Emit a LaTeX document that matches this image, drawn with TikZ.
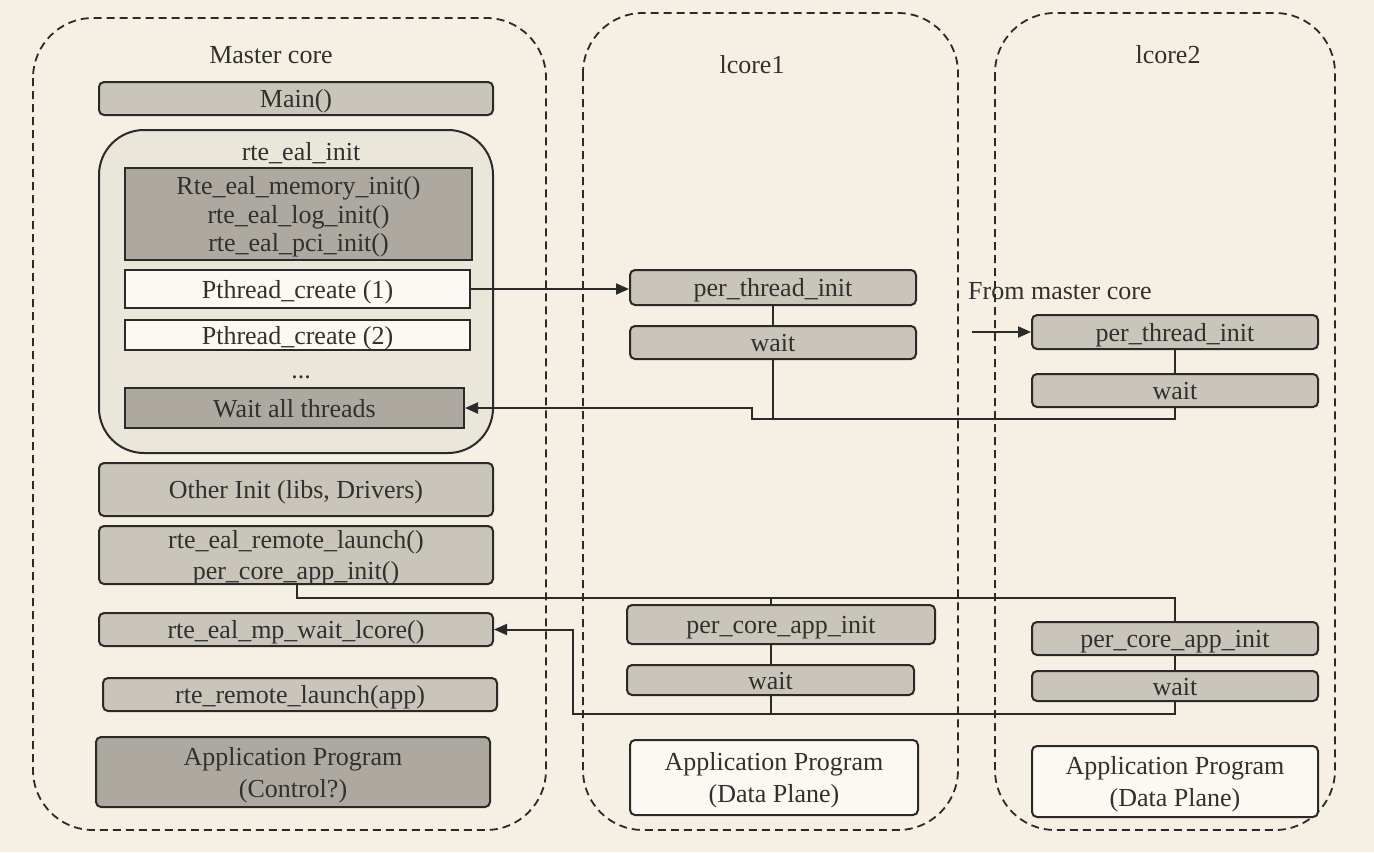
\documentclass[tikz,border=0pt]{standalone}
\usepackage{fontspec}
\setmainfont{Liberation Serif}
\usetikzlibrary{arrows.meta}
\definecolor{bg}{HTML}{F6F0E4}
\definecolor{lgrey}{HTML}{C9C5BA}
\definecolor{dgrey}{HTML}{ADA9A0}
\definecolor{cont}{HTML}{EBE6DA}
\definecolor{wbox}{HTML}{FCF9F2}
\definecolor{ink}{HTML}{2A2A2A}
\definecolor{txt}{HTML}{303030}
\tikzset{
  core/.style={draw=ink, line width=1.8pt, dash pattern=on 8pt off 5pt, rounded corners=60pt},
  box/.style={draw=ink, line width=2pt, rounded corners=5pt, inner sep=0pt, align=center, text=txt,
    font=\fontsize{26}{31}\selectfont, text height=20pt, text depth=2pt},
  multi/.style={text height=#1pt},
  lbox/.style={box, fill=lgrey},
  dbox/.style={box, fill=dgrey},
  wbx/.style={box, fill=wbox},
  sqd/.style={box, fill=dgrey, rounded corners=0pt},
  sqw/.style={box, fill=wbox, rounded corners=0pt},
  lab/.style={text=txt, inner sep=0pt, font=\fontsize{26}{31}\selectfont},
  wh/.style 2 args={minimum width=#1pt, minimum height=#2pt},
  conn/.style={draw=ink, line width=2pt},
  arr/.style={conn, -{Triangle[length=13pt,width=11pt]}},
}
\begin{document}
\begin{tikzpicture}[x=1pt,y=-1pt]
\fill[bg] (0,0) rectangle (1374,852);
\useasboundingbox (0,0) rectangle (1374,852);
% dashed cores
\draw[core] (33,18) rectangle (546,830);
\draw[core] (583,13) rectangle (958,830);
\draw[core] (995,13) rectangle (1335,830);
\node[lab] (tmaster) at (271,55) {Master core};
\node[lab] (tl1) at (752,65) {lcore1};
\node[lab] (tl2) at (1168,55) {lcore2};
% master core
\node[lbox, wh={394}{33}] (main) at (296,98.5) {Main()};
\node[box, fill=cont, rounded corners=45pt, wh={394}{323}] (ealc) at (296,291.5) {};
\node[lab] (eallab) at (301,153) {rte\_eal\_init};
\node[sqd, wh={347}{92}, font=\fontsize{26}{28.5}\selectfont, multi=77] (mem) at (298.5,214) {Rte\_eal\_memory\_init()\\rte\_eal\_log\_init()\\rte\_eal\_pci\_init()};
\node[sqw, wh={345}{38}] (pc1) at (297.5,289) {Pthread\_create (1)};
\node[sqw, wh={345}{30}] (pc2) at (297.5,335) {Pthread\_create (2)};
\node[lab] (dots) at (301,377) {...};
\node[sqd, wh={339}{40}] (wat) at (294.5,408) {Wait all threads};
\node[lbox, wh={394}{53}] (other) at (296,489.5) {Other Init (libs, Drivers)};
\node[lbox, wh={394}{58}, multi=51] (launch) at (296,555) {rte\_eal\_remote\_launch()\\per\_core\_app\_init()};
\node[lbox, wh={394}{33}] (mpwait) at (296,629.5) {rte\_eal\_mp\_wait\_lcore()};
\node[lbox, wh={394}{33}] (rlaunch) at (300,694.5) {rte\_remote\_launch(app)};
\node[dbox, wh={394}{70}, font=\fontsize{26}{32}\selectfont, multi=52] (appc) at (293,772) {Application Program\\(Control?)};
% lcore1
\node[lbox, wh={286}{35}] (pti1) at (773,287.5) {per\_thread\_init};
\node[lbox, wh={286}{33}] (w1) at (773,342.5) {wait};
\node[lbox, wh={308}{39}] (pca1) at (781,624.5) {per\_core\_app\_init};
\node[lbox, wh={287}{30}] (w1b) at (770.5,680) {wait};
\node[wbx, wh={288}{75}, font=\fontsize{26}{32}\selectfont, multi=52] (app1) at (774,777.5) {Application Program\\(Data Plane)};
% lcore2
\node[lab, anchor=west] (from) at (968,291) {From master core};
\node[lbox, wh={286}{34}] (pti2) at (1175,332) {per\_thread\_init};
\node[lbox, wh={286}{33}] (w2) at (1175,390.5) {wait};
\node[lbox, wh={286}{33}] (pca2) at (1175,638.5) {per\_core\_app\_init};
\node[lbox, wh={286}{30}] (w2b) at (1175,686) {wait};
\node[wbx, wh={286}{71}, font=\fontsize{26}{32}\selectfont, multi=52] (app2) at (1175,781.5) {Application Program\\(Data Plane)};
% connectors
\coordinate (fm) at (972,332);
\coordinate (c1) at (752,419);
\coordinate (c2) at (297,598);
\coordinate (c3) at (573,714);
\draw[arr] (pc1.east) -- (pc1.east -| pti1.west);
\draw[arr] (fm) -- (pti2.west);
\draw[conn] (pti1.south) -- (w1.north);
\draw[conn] (pti2.south) -- (w2.north);
\draw[conn] (w1.south) -- (w1.south |- c1);
\draw[arr] (w2.south) |- (c1) |- (wat.east);
\draw[conn] (launch.south -| c2) -- (c2) -| (pca2.north);
\draw[conn] (w1b.north |- c2) -- (w1b.north |- pca1.north);
\draw[conn] (w1b.north |- pca1.south) -- (w1b.north);
\draw[conn] (pca2.south) -- (w2b.north);
\draw[conn] (w1b.south) -- (w1b.south |- c3);
\draw[arr] (w2b.south) |- (c3) |- (mpwait.east);
\end{tikzpicture}
\end{document}
